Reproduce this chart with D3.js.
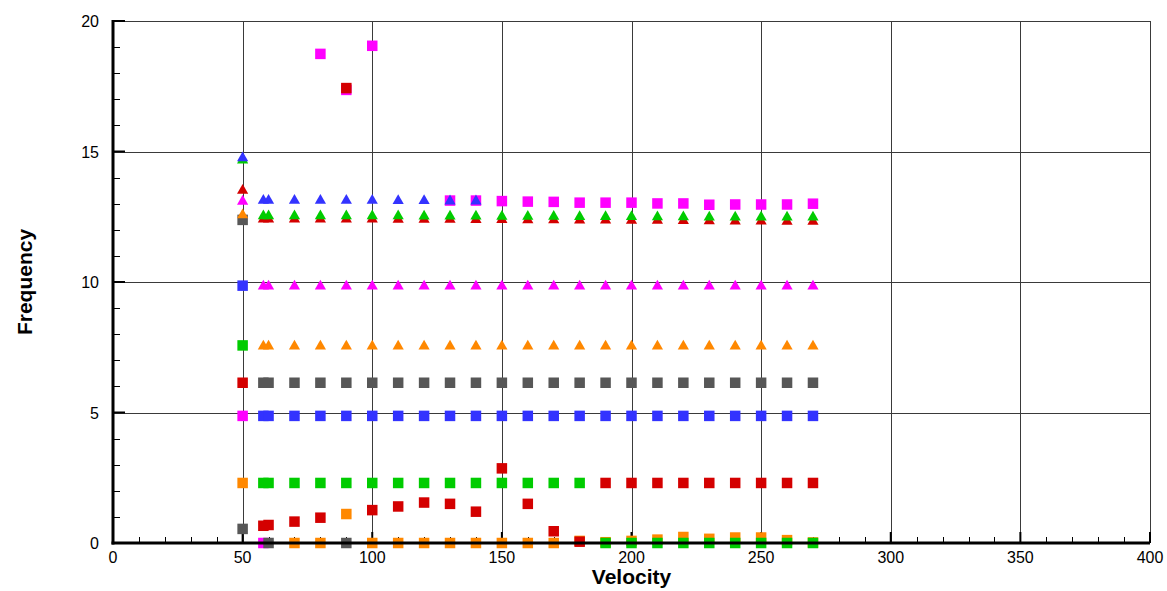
<!DOCTYPE html>
<html>
<head>
<meta charset="utf-8">
<script src="https://cdn.jsdelivr.net/npm/d3@7"></script>
<style>
  html, body { margin: 0; padding: 0; background: #fff; }
  svg { display: block; font-family: "Liberation Sans", Arial, sans-serif; }
</style>
</head>
<body>
<svg id="chart" width="1167" height="591"></svg>
<script>
// ---------- DATA ----------
const velocities = [50, 58, 60, 70, 80, 90, 100, 110, 120, 130, 140, 150, 160, 170, 180, 190, 200, 210, 220, 230, 240, 250, 260, 270];
const xTickLabels = [0, 50, 100, 150, 200, 250, 300, 350, 400];
const yTickLabels = [0, 5, 10, 15, 20];
const N = null;

// squares
const sqMagentaA = [4.87, 0.0, N, N, 18.74, 17.36, 19.05, N, N, N, N, N, N, N, N, N, N, N, N, N, N, N, N, N];
const sqMagentaB = [N, N, N, N, N, N, N, N, N, 13.12, 13.12, 13.10, 13.08, 13.07, 13.04, 13.04, 13.04, 13.01, 13.01, 12.96, 12.97, 12.97, 12.97, 13.0];
const sqOrange   = [2.30, N, N, 0.0, 0.0, 1.11, 0.0, 0.0, 0.0, 0.0, 0.0, 0.0, 0.0, 0.0, 0.08, 0.03, 0.08, 0.13, 0.23, 0.16, 0.21, 0.21, 0.11, 0.02];
const sqGrayA    = [0.54, N, 0.0, N, N, 0.0, N, N, N, N, N, N, N, N, N, N, N, N, N, N, N, N, N, N];
const sqGrayB    = [12.38, 6.14, 6.14, 6.14, 6.14, 6.14, 6.14, 6.14, 6.14, 6.14, 6.14, 6.14, 6.14, 6.14, 6.14, 6.14, 6.14, 6.14, 6.14, 6.14, 6.14, 6.14, 6.14, 6.14];
const sqRedA     = [6.14, N, N, N, N, 17.43, N, N, N, N, N, N, N, N, N, 2.30, 2.30, 2.30, 2.30, 2.30, 2.30, 2.30, 2.30, 2.30];
const sqRedB     = [N, 0.66, 0.69, 0.82, 0.97, N, 1.26, 1.40, 1.55, 1.50, 1.20, 2.86, 1.50, 0.45, 0.05, N, N, N, N, N, N, N, N, N];
const sqGreen    = [7.57, 2.30, 2.30, 2.30, 2.30, 2.30, 2.30, 2.30, 2.30, 2.30, 2.30, 2.30, 2.30, 2.30, 2.30, 0.0, 0.0, 0.0, 0.0, 0.0, 0.0, 0.0, 0.0, 0.0];
const sqBlue     = [9.86, 4.87, 4.87, 4.87, 4.87, 4.87, 4.87, 4.87, 4.87, 4.87, 4.87, 4.87, 4.87, 4.87, 4.87, 4.87, 4.87, 4.87, 4.87, 4.87, 4.87, 4.87, 4.87, 4.87];

// triangles
const triMagenta = [13.14, 9.89, 9.89, 9.89, 9.89, 9.89, 9.89, 9.89, 9.89, 9.89, 9.89, 9.89, 9.89, 9.89, 9.89, 9.89, 9.89, 9.89, 9.89, 9.89, 9.89, 9.89, 9.89, 9.89];
const triOrange  = [12.62, 7.59, 7.59, 7.59, 7.59, 7.59, 7.59, 7.59, 7.59, 7.59, 7.59, 7.59, 7.59, 7.59, 7.59, 7.59, 7.59, 7.59, 7.59, 7.59, 7.59, 7.59, 7.59, 7.59];
const triRed     = [13.56, 12.46, 12.46, 12.46, 12.46, 12.46, 12.46, 12.45, 12.45, 12.45, 12.44, 12.44, 12.43, 12.43, 12.42, 12.42, 12.41, 12.41, 12.40, 12.39, 12.38, 12.38, 12.37, 12.37];
const triGreen   = [14.72, 12.58, 12.58, 12.58, 12.58, 12.58, 12.58, 12.58, 12.57, 12.57, 12.57, 12.56, 12.56, 12.56, 12.55, 12.55, 12.55, 12.54, 12.54, 12.53, 12.53, 12.53, 12.53, 12.53];
const triBlue    = [14.80, 13.17, 13.17, 13.17, 13.17, 13.17, 13.17, 13.16, 13.16, 13.15, 13.15, N, N, N, N, N, N, N, N, N, N, N, N, N];

const colors = { red: "#d40000", green: "#00cc00", blue: "#3333ff", magenta: "#ff00ff", orange: "#ff8800", gray: "#575757" };

const series = [
  { values: sqMagentaA, color: colors.magenta, shape: "square" },
  { values: sqMagentaB, color: colors.magenta, shape: "square" },
  { values: sqOrange,   color: colors.orange,  shape: "square" },
  { values: sqGrayA,    color: colors.gray,    shape: "square" },
  { values: sqGrayB,    color: colors.gray,    shape: "square" },
  { values: sqRedA,     color: colors.red,     shape: "square" },
  { values: sqRedB,     color: colors.red,     shape: "square" },
  { values: sqGreen,    color: colors.green,   shape: "square" },
  { values: sqBlue,     color: colors.blue,    shape: "square" },
  { values: triMagenta, color: colors.magenta, shape: "triangle" },
  { values: triOrange,  color: colors.orange,  shape: "triangle" },
  { values: triRed,     color: colors.red,     shape: "triangle" },
  { values: triGreen,   color: colors.green,   shape: "triangle" },
  { values: triBlue,    color: colors.blue,    shape: "triangle" }
];

// ---------- LAYOUT ----------
const svg = d3.select("#chart");
const mLeft = 113, mRight = 1150, mTop = 21, mBottom = 543;
const x = d3.scaleLinear().domain([0, 400]).range([mLeft, mRight]);
const y = d3.scaleLinear().domain([0, 20]).range([mBottom, mTop]);

// grid
const grid = svg.append("g");
grid.selectAll("line.vg").data(xTickLabels.filter(d => d > 0)).enter().append("line")
  .attr("x1", d => Math.round(x(d)) + 0.5).attr("x2", d => Math.round(x(d)) + 0.5)
  .attr("y1", mTop).attr("y2", mBottom)
  .attr("stroke", "#3a3a3a").attr("stroke-width", 1);
grid.selectAll("line.hg").data(yTickLabels.filter(d => d > 0)).enter().append("line")
  .attr("x1", mLeft).attr("x2", mRight)
  .attr("y1", d => Math.round(y(d)) + 0.5).attr("y2", d => Math.round(y(d)) + 0.5)
  .attr("stroke", "#3a3a3a").attr("stroke-width", 1);

// axes with minor ticks
const yMinor = d3.range(0, 21, 1).filter(d => d % 5 !== 0);
const xMinor = d3.range(0, 401, 10).filter(d => d % 50 !== 0);
const ax = svg.append("g");
ax.selectAll("line.ym").data(yMinor).enter().append("line")
  .attr("x1", mLeft).attr("x2", mLeft + 7)
  .attr("y1", d => Math.round(y(d)) + 0.5).attr("y2", d => Math.round(y(d)) + 0.5)
  .attr("stroke", "#000").attr("stroke-width", 1);
ax.selectAll("line.yM").data(yTickLabels).enter().append("line")
  .attr("x1", mLeft).attr("x2", mLeft + 12)
  .attr("y1", d => y(d)).attr("y2", d => y(d))
  .attr("stroke", "#000").attr("stroke-width", 2);
ax.selectAll("line.xm").data(xMinor).enter().append("line")
  .attr("x1", d => Math.round(x(d)) + 0.5).attr("x2", d => Math.round(x(d)) + 0.5)
  .attr("y1", mBottom).attr("y2", mBottom - 6)
  .attr("stroke", "#000").attr("stroke-width", 1);
ax.selectAll("line.xM").data(xTickLabels).enter().append("line")
  .attr("x1", d => x(d)).attr("x2", d => x(d))
  .attr("y1", mBottom).attr("y2", mBottom - 11)
  .attr("stroke", "#000").attr("stroke-width", 2);

// tick labels
ax.selectAll("text.yl").data(yTickLabels).enter().append("text")
  .attr("x", mLeft - 14).attr("y", d => y(d) + 6)
  .attr("text-anchor", "end").attr("font-size", 16).attr("fill", "#000")
  .text(d => d);
ax.selectAll("text.xl").data(xTickLabels).enter().append("text")
  .attr("x", d => x(d)).attr("y", mBottom + 20)
  .attr("text-anchor", "middle").attr("font-size", 16).attr("fill", "#000")
  .text(d => d);

// axis titles
svg.append("text").attr("x", (mLeft + mRight) / 2).attr("y", 584)
  .attr("text-anchor", "middle").attr("font-size", 21).attr("font-weight", "bold")
  .text("Velocity");
svg.append("text").attr("transform", `translate(32,${(mTop + mBottom) / 2}) rotate(-90)`)
  .attr("text-anchor", "middle").attr("font-size", 21).attr("font-weight", "bold")
  .text("Frequency");

// markers
const marks = svg.append("g");
const sq = 10.5;
const triPath = "M0,-5.2 L5.6,4.6 L-5.6,4.6 Z";
series.forEach(s => {
  const pts = velocities.map((v, i) => ({ v, f: s.values[i] })).filter(p => p.f !== null);
  if (s.shape === "square") {
    marks.append("g").selectAll("rect").data(pts).enter().append("rect")
      .attr("x", p => x(p.v) - sq / 2).attr("y", p => y(p.f) - sq / 2)
      .attr("width", sq).attr("height", sq).attr("fill", s.color);
  } else {
    marks.append("g").selectAll("path").data(pts).enter().append("path")
      .attr("d", triPath)
      .attr("transform", p => `translate(${x(p.v)},${y(p.f)})`)
      .attr("fill", s.color);
  }
});

// axis lines on top
svg.append("line").attr("x1", mLeft).attr("x2", mLeft).attr("y1", mTop - 1).attr("y2", mBottom + 1.5)
  .attr("stroke", "#000").attr("stroke-width", 3);
svg.append("line").attr("x1", mLeft - 1.5).attr("x2", mRight).attr("y1", mBottom).attr("y2", mBottom)
  .attr("stroke", "#000").attr("stroke-width", 3);
</script>
</body>
</html>
